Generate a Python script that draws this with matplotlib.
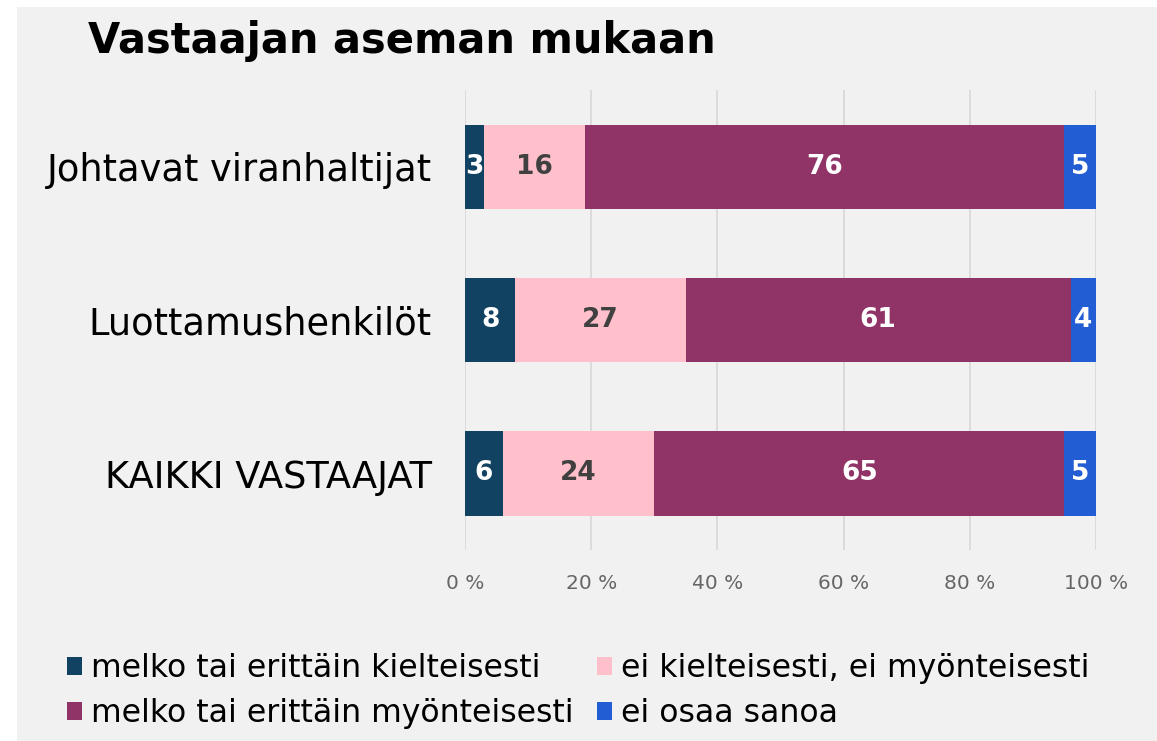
import matplotlib
matplotlib.use("Agg")
import matplotlib.pyplot as plt
from matplotlib.patches import Rectangle
import numpy as np

categories = ["Johtavat viranhaltijat", "Luottamushenkilöt", "KAIKKI VASTAAJAT"]
series_names = ["melko tai erittäin kielteisesti", "ei kielteisesti, ei myönteisesti",
                "melko tai erittäin myönteisesti", "ei osaa sanoa"]
kielteisesti = [3, 8, 6]
neutraali = [16, 27, 24]
myonteisesti = [76, 61, 65]
ei_osaa = [5, 4, 5]
xticks = [0, 20, 40, 60, 80, 100]
xtick_labels = ["0 %", "20 %", "40 %", "60 %", "80 %", "100 %"]
title = "Vastaajan aseman mukaan"

colors = ["#124261", "#FFC0CB", "#903366", "#235DD3"]
label_colors = ["white", "#404040", "white", "white"]

FONT = "DejaVu Sans"
W, H = 1157, 741
fig = plt.figure(figsize=(W / 100, H / 100), dpi=100)
fig.patch.set_facecolor("white")
fig.patches.append(Rectangle((17 / W, 0), 1 - 17 / W, 1 - 7 / H, transform=fig.transFigure,
                             facecolor="#F1F1F1", edgecolor="none", zorder=-10))

ax = fig.add_axes([465 / W, 1 - 550 / H, (1096 - 465) / W, (550 - 90) / H])
ax.set_zorder(2)
ax.set_facecolor("none")

data = [kielteisesti, neutraali, myonteisesti, ei_osaa]
y = np.arange(len(categories))
left = np.zeros(len(categories))
handles = []
for i, vals in enumerate(data):
    vals = np.array(vals, dtype=float)
    bc = ax.barh(y, vals, left=left, height=0.55, color=colors[i], label=series_names[i],
                 zorder=3, edgecolor="none")
    handles.append(bc)
    for j, v in enumerate(vals):
        ax.text(left[j] + v / 2, y[j], f"{int(v)}", ha="center", va="center",
                color=label_colors[i], fontsize=19, fontweight="bold", family=FONT, zorder=4)
    left += vals

ax.set_xlim(0, 100)
ax.set_ylim(2.5, -0.5)
ax.set_xticks(xticks)
ax.set_xticklabels(xtick_labels, color="#666666", fontsize=14.5, family=FONT)
ax.set_yticks(y)
ax.set_yticklabels(categories, fontsize=26.5, family=FONT, color="black")
ax.tick_params(axis="x", length=0, pad=17)
ax.tick_params(axis="y", length=0, pad=24)
ax.grid(axis="x", color="#D9D9D9", linewidth=1.3, zorder=0)
for s in ax.spines.values():
    s.set_visible(False)

fig.text(88 / W, 1 - 41 / H, title, fontsize=30, fontweight="bold", family=FONT,
         ha="left", va="center", color="black")

order = [0, 2, 1, 3]
leg = fig.legend([handles[k] for k in order], [series_names[k] for k in order],
                 loc="upper left", bbox_to_anchor=(51 / W, 1 - 637 / H),
                 ncol=2, frameon=False, prop={"family": FONT, "size": 22.7},
                 handlelength=0.48, handleheight=0.5, handletextpad=0.28,
                 columnspacing=0.75, labelspacing=0.45, borderpad=0)

fig.savefig("out.png", dpi=100, facecolor=fig.get_facecolor())
